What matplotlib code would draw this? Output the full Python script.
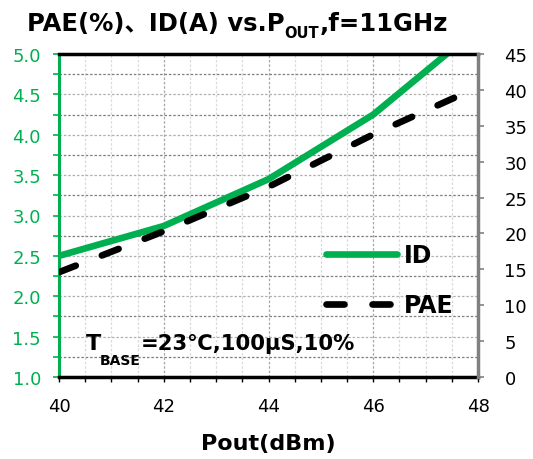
import matplotlib.pyplot as plt
from matplotlib.ticker import MultipleLocator

plt.rcParams['font.family'] = ['DejaVu Sans', 'Noto Sans CJK SC']

# measured points: output power (dBm), drain current (A), PAE (%)
pout = [40, 42, 44, 46, 47.7]
id_amp = [2.50, 2.87, 3.45, 4.25, 5.16]
pae = [14.6, 20.3, 26.5, 33.8, 39.4]

green = '#00B050'

fig = plt.figure(figsize=(5.33, 4.6), dpi=100)
ax = fig.add_axes([59 / 533, 1 - 378 / 460, 419 / 533, 323 / 460])
ax2 = ax.twinx()

ax.set_xlim(40, 48)
ax.set_ylim(1, 5)
ax2.set_ylim(0, 45)

# grid: dotted horizontals every 0.25 A, light verticals every 0.5 dBm
ax.xaxis.set_major_locator(MultipleLocator(2))
ax.xaxis.set_minor_locator(MultipleLocator(0.5))
ax.yaxis.set_major_locator(MultipleLocator(0.5))
ax.yaxis.set_minor_locator(MultipleLocator(0.25))
ax2.yaxis.set_major_locator(MultipleLocator(5))
ax.yaxis.grid(True, which='minor', color='#7f7f7f', ls=(0, (2, 1.5)), lw=0.9)
ax.yaxis.grid(True, which='major', color='#b0b0b0', ls=(0, (2, 1.5)), lw=0.9)
ax.xaxis.grid(True, which='major', color='#a6a6a6', ls=(0, (2, 1.5)), lw=0.9)
ax.xaxis.grid(True, which='minor', color='#d9d9d9', ls=(0, (2, 1.5)), lw=0.9)
ax.set_axisbelow(True)

l_id, = ax.plot(pout, id_amp, color=green, lw=4.8, solid_capstyle='round',
                solid_joinstyle='round', label='ID')
l_pae, = ax2.plot(pout, pae, color='black', lw=4.8, ls=(0, (2.7, 4.2)),
                  dash_capstyle='round', label='PAE')

# spines
ax.spines['left'].set_color(green)
ax.spines['left'].set_linewidth(2.2)
ax.spines['top'].set_linewidth(2.5)
ax.spines['bottom'].set_linewidth(2.5)
ax2.spines['right'].set_color('#808080')
ax2.spines['right'].set_linewidth(2.5)
ax2.spines['left'].set_visible(False)
ax2.spines['top'].set_visible(False)
ax2.spines['bottom'].set_visible(False)

ax.tick_params(axis='y', which='both', colors=green, direction='out', length=4,
               width=1.2, labelsize=13, pad=9)
ax.tick_params(axis='y', which='minor', labelleft=False)
ax.tick_params(axis='x', which='both', direction='out', length=3.5, width=1,
               labelsize=13, pad=11)
ax2.tick_params(axis='y', direction='out', length=4, width=1.2, color='#808080',
                labelcolor='black', labelsize=13, pad=15)

ax.yaxis.set_major_formatter('{x:.1f}')
ax.set_xticks([40, 42, 44, 46, 48])

ax.set_xlabel('Pout(dBm)', fontsize=16, fontweight='bold', labelpad=13)

# title with subscript pieces chained after each other
t1 = fig.text(27 / 533, 1 - 31 / 460, 'PAE(%)、ID(A) vs.P', fontsize=17.5,
              fontweight='bold', ha='left', va='baseline')
t2 = ax.annotate('OUT', xy=(1, 0), xycoords=t1, xytext=(0, -3.5),
                 textcoords='offset points', fontsize=10.5, fontweight='bold',
                 ha='left', va='bottom', annotation_clip=False)
ax.annotate(',f=11GHz', xy=(1, 0), xycoords=(t2, t1), fontsize=17.5,
            fontweight='bold', ha='left', va='bottom', annotation_clip=False)

# test condition note
c1 = ax.text(0.065, 0.087, 'T', transform=ax.transAxes, fontsize=16,
             fontweight='bold', ha='left', va='baseline')
c2 = ax.annotate('BASE', xy=(1, 0), xycoords=c1, xytext=(-1.5, -10.5),
                 textcoords='offset points', fontsize=10, fontweight='bold',
                 ha='left', va='bottom', annotation_clip=False)
ax.annotate('=23℃,100µS,10%', xy=(1, 0), xycoords=(c2, c1), fontsize=15.2,
            fontweight='bold', ha='left', va='bottom', annotation_clip=False)

leg = ax2.legend(handles=[l_id, l_pae], loc='center left',
                 bbox_to_anchor=(0.638, 0.30), frameon=False, borderpad=0,
                 borderaxespad=0, handlelength=3.0, handletextpad=0.28,
                 labelspacing=1.1, prop={'size': 17, 'weight': 'bold'})

fig.savefig('out.png', dpi=100)
